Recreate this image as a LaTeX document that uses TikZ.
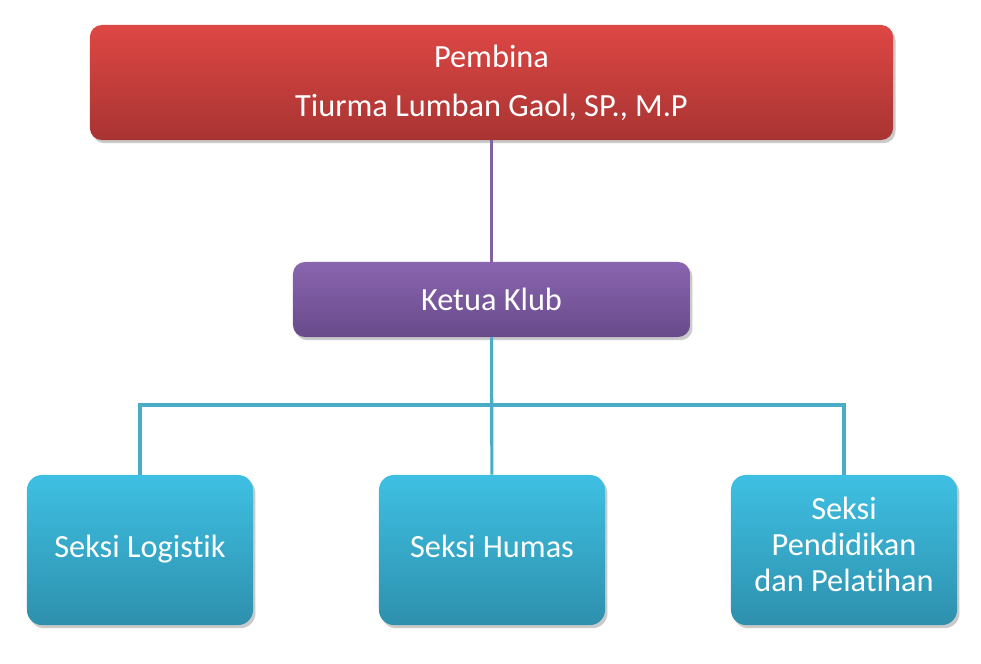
\documentclass[tikz,border=0pt]{standalone}
\usepackage{fontspec}
\setmainfont{Carlito}[Ligatures=CommonOff]
\usepackage{tikz}
\usetikzlibrary{shadows}

\definecolor{redtop}{HTML}{DE4744}
\definecolor{redbot}{HTML}{A83432}
\definecolor{purtop}{HTML}{8A65B0}
\definecolor{purbot}{HTML}{684A8A}
\definecolor{tealtop}{HTML}{3EC0E3}
\definecolor{tealbot}{HTML}{2E90AD}
\definecolor{purline}{HTML}{8064A2}
\definecolor{tealline}{HTML}{4BACC6}

\begin{document}
\begin{tikzpicture}
    [
    x=0.025cm,y=-0.025cm,
    box/.style={rectangle,rounded corners=0.3cm,text=white,align=center,inner sep=0pt,
      font=\fontsize{23}{28}\selectfont,
      drop shadow={shadow xshift=0.06cm,shadow yshift=-0.08cm,opacity=0.35,fill=black!60}},
    chief/.style={box,top color=redtop,bottom color=redbot,minimum width=20.075cm,minimum height=2.875cm},
    head/.style={box,top color=purtop,bottom color=purbot,minimum width=9.925cm,minimum height=1.875cm},
    unit/.style={box,rounded corners=0.375cm,top color=tealtop,bottom color=tealbot,minimum width=5.65cm,minimum height=3.75cm,
      font=\fontsize{23}{25.5}\selectfont,execute at begin node=\strut,execute at end node=\strut},
    link/.style={line width=2.2pt}
    ]
    \useasboundingbox (0,0) rectangle (981,664);
    \node (pembina) at (491.5,82.5) [chief] {Pembina\\[7pt]Tiurma Lumban Gaol, SP., M.P};
    \node (ketua) at (491.5,299.5) [head] {Ketua Klub};
    \node (logistik) at (140,550) [unit] {Seksi Logistik};
    \node (humas) at (492,550) [unit] {Seksi Humas};
    \node (pelatihan) at (844,550) [unit] {Seksi\\Pendidikan\\dan Pelatihan};
    \coordinate (bus) at (491.5,405);
    \draw [link,purline] (pembina) to (ketua);
    \draw [link,tealline] (ketua) to (humas);
    \draw [link,tealline] (logistik) |- (bus) -| (pelatihan);
  \end{tikzpicture}
\end{document}
